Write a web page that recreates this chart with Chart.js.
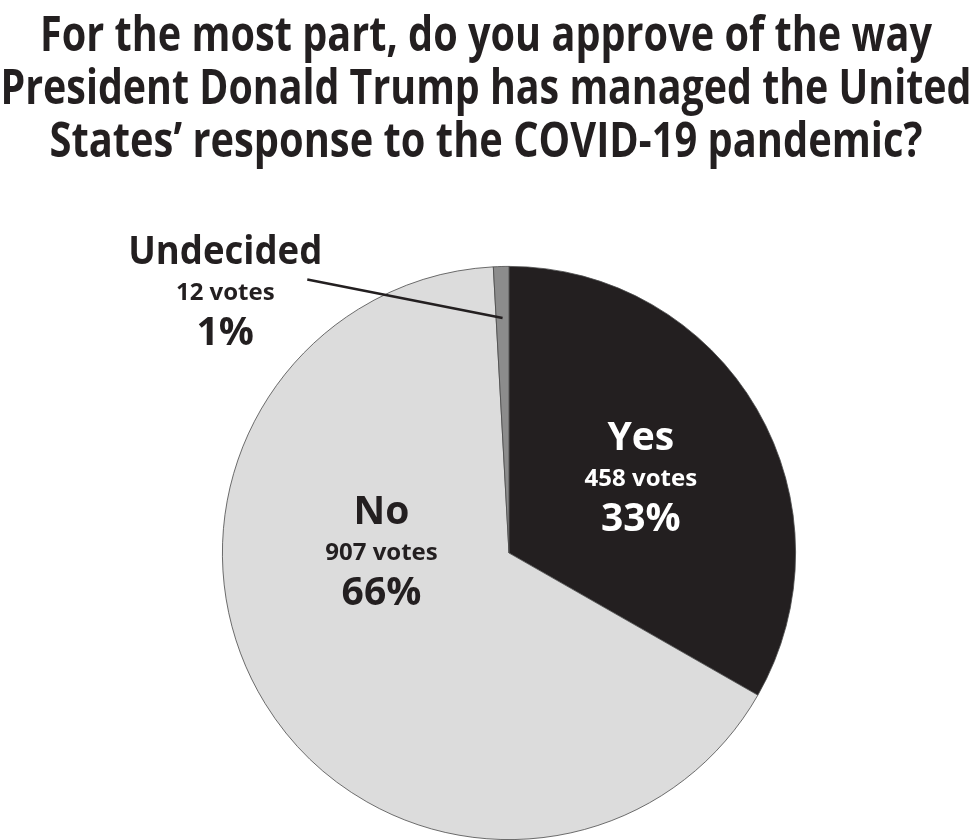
<!DOCTYPE html>
<html>
<head>
<meta charset="utf-8">
<script src="https://cdn.jsdelivr.net/npm/chart.js@4"></script>
<style>
  html, body { margin: 0; padding: 0; background: #fff; }
  #wrap { width: 973px; height: 840px; position: relative; }
</style>
</head>
<body>
<div id="wrap"><canvas id="pollChart" width="973" height="840"></canvas></div>
<script>
// Dữ liệu biểu đồ
const titleLines = [
    'For the most part, do you approve of the way',
    'President Donald Trump has managed the United',
    'States\u2019 response to the COVID-19 pandemic?'
];
const answers = ['Yes', 'No', 'Undecided'];
const votes = [458, 907, 12];
const percentLabels = ['33%', '66%', '1%'];
const sliceColors = ['#231f20', '#dcdcdc', '#8c8c8c'];

const FONT = '"Open Sans", "DejaVu Sans", sans-serif';

// vị trí nhãn, tính theo bán kính so với tâm hình tròn
const labelSpots = [
    { dx: 0.46, dy: -0.36, color: '#ffffff' },
    { dx: -0.445, dy: -0.10, color: '#231f20' },
    { dx: -0.99, dy: -1.01, color: '#231f20' }
];

const textPlugin = {
    id: 'textPlugin',
    afterDraw(chart) {
        const ctx = chart.ctx;
        ctx.save();
        ctx.textAlign = 'center';
        ctx.textBaseline = 'alphabetic';

        // tiêu đề
        ctx.fillStyle = '#231f20';
        ctx.font = 'bold 49px ' + FONT;
        const titleWidths = [892, 971, 873];
        titleLines.forEach((line, i) => {
            ctx.fillText(line, 486, 51 + i * 53, titleWidths[i]);
        });

        const arc = chart.getDatasetMeta(0).data[0];
        const cx = arc.x, cy = arc.y, r = arc.outerRadius;

        answers.forEach((name, i) => {
            const s = labelSpots[i];
            const x = cx + s.dx * r;
            const y = cy + s.dy * r;
            ctx.fillStyle = s.color;
            ctx.font = 'bold 39px ' + FONT;
            ctx.fillText(name, x, y, name.length > 4 ? 194 : 999);
            ctx.font = 'bold 24px ' + FONT;
            ctx.fillText(votes[i] + ' votes', x, y + 36, 116);
            ctx.font = 'bold 39px ' + FONT;
            ctx.fillText(percentLabels[i], x, y + 81, 82);
        });

        // đường dẫn tới lát Undecided
        const und = chart.getDatasetMeta(0).data[2];
        const mid = (und.startAngle + und.endAngle) / 2;
        const ex = cx + Math.cos(mid) * r * 0.82;
        const ey = cy + Math.sin(mid) * r * 0.82;
        ctx.beginPath();
        ctx.moveTo(cx + labelSpots[2].dx * r + 82, cy + labelSpots[2].dy * r + 16);
        ctx.lineTo(ex, ey);
        ctx.strokeStyle = '#231f20';
        ctx.lineWidth = 2.5;
        ctx.stroke();
        ctx.restore();
    }
};

new Chart(document.getElementById('pollChart').getContext('2d'), {
    type: 'pie',
    data: {
        labels: answers,
        datasets: [{
            data: votes,
            backgroundColor: sliceColors,
            borderColor: '#4a4a4a',
            borderWidth: 0.8
        }]
    },
    options: {
        responsive: false,
        animation: false,
        events: [],
        layout: { padding: { left: 222, right: 177, top: 266, bottom: 0 } },
        plugins: {
            legend: { display: false },
            tooltip: { enabled: false }
        }
    },
    plugins: [textPlugin]
});
</script>
</body>
</html>
